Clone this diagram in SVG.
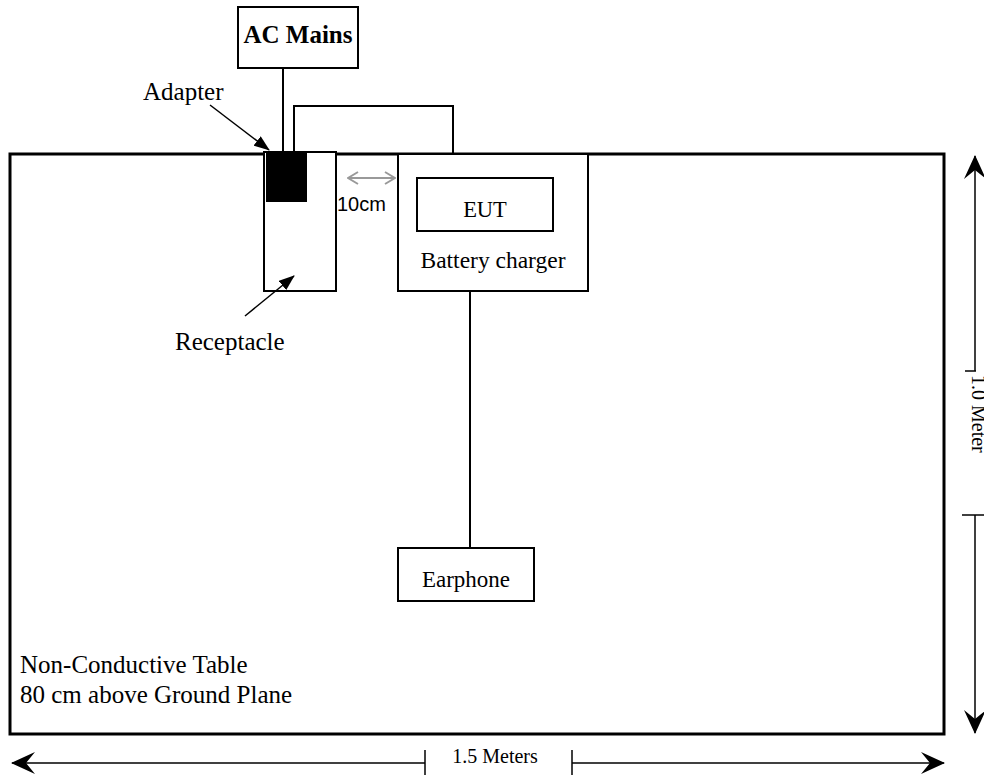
<svg xmlns="http://www.w3.org/2000/svg" width="984" height="779" viewBox="0 0 984 779">
<defs>
<style>
.t{font-family:"Liberation Serif","Times New Roman",serif;fill:#000}
.box{fill:#fff;stroke:#000;stroke-width:2}
.ln{fill:none;stroke:#000;stroke-width:2}
.thin{fill:none;stroke:#000;stroke-width:1.5}
</style>
<marker id="tri" viewBox="0 0 16 12" refX="15" refY="6" markerWidth="16" markerHeight="12" markerUnits="userSpaceOnUse" orient="auto">
<path d="M0,0 L16,6 L0,12 Z" fill="#000"/>
</marker>
<marker id="chev" viewBox="0 0 24 22" refX="23" refY="11" markerWidth="24" markerHeight="22" markerUnits="userSpaceOnUse" orient="auto">
<path d="M0,0 L24,11 L0,22 L9,11 Z" fill="#000"/>
</marker>
<marker id="gchev" viewBox="0 0 12 14" refX="11" refY="7" markerWidth="12" markerHeight="14" markerUnits="userSpaceOnUse" orient="auto-start-reverse">
<path d="M1,1 L11,7 L1,13" fill="none" stroke="#999" stroke-width="2"/>
</marker>
</defs>
<rect width="984" height="779" fill="#fff"/>

<g id="table">
<rect x="10" y="154" width="934" height="580" fill="#fff" stroke="#000" stroke-width="3"/>
<text class="t" x="20" y="673" font-size="25">Non-Conductive Table</text>
<text class="t" x="20" y="703" font-size="25">80 cm above Ground Plane</text>
</g>

<g id="ac-mains">
<rect class="box" x="238" y="7" width="120" height="61"/>
<text class="t" x="298" y="43" font-size="25" font-weight="bold" text-anchor="middle">AC Mains</text>
</g>

<g id="receptacle">
<rect class="box" x="264" y="152" width="72" height="139"/>
</g>

<g id="adapter">
<rect x="266" y="151" width="41" height="51" fill="#000"/>
</g>

<g id="battery-charger">
<rect class="box" x="398" y="154" width="190" height="137"/>
<text class="t" x="493" y="268" font-size="23.5" text-anchor="middle">Battery charger</text>
</g>

<g id="eut">
<rect class="box" x="417" y="178" width="136" height="53"/>
<text class="t" x="485" y="217" font-size="22.5" text-anchor="middle">EUT</text>
</g>

<g id="earphone">
<rect class="box" x="398" y="548" width="136" height="53"/>
<text class="t" x="466" y="587" font-size="23" text-anchor="middle">Earphone</text>
</g>

<g id="connectors">
<line class="ln" x1="283" y1="68" x2="283" y2="152"/>
<polyline class="ln" points="294,152 294,106 453,106 453,154"/>
<line class="ln" x1="470" y1="292" x2="470" y2="548"/>
<line class="thin" x1="210" y1="105" x2="269" y2="150" marker-end="url(#tri)"/>
<line class="thin" x1="245" y1="316" x2="294" y2="276" marker-end="url(#tri)"/>
<line x1="348" y1="178" x2="395" y2="178" stroke="#999" stroke-width="2" marker-start="url(#gchev)" marker-end="url(#gchev)"/>
</g>

<g id="labels">
<text class="t" x="143" y="100" font-size="25">Adapter</text>
<text class="t" x="175" y="350" font-size="25">Receptacle</text>
<text x="337" y="211" font-size="20" font-family="'Liberation Sans',Arial,sans-serif" fill="#000">10cm</text>
</g>

<g id="dimensions">
<line class="thin" x1="425" y1="763" x2="12" y2="763" marker-end="url(#chev)"/>
<line class="thin" x1="425" y1="750" x2="425" y2="775"/>
<line class="thin" x1="572" y1="763" x2="944" y2="763" marker-end="url(#chev)"/>
<line class="thin" x1="572" y1="750" x2="572" y2="775"/>
<text class="t" x="495" y="763" font-size="20" text-anchor="middle">1.5 Meters</text>
<line class="thin" x1="975" y1="371" x2="975" y2="156" marker-end="url(#chev)"/>
<line class="thin" x1="965" y1="371" x2="976" y2="371"/>
<line class="thin" x1="975" y1="515" x2="975" y2="733" marker-end="url(#chev)"/>
<line class="thin" x1="962" y1="515" x2="984" y2="515"/>
<text class="t" transform="translate(972,375) rotate(90)" x="0" y="0" font-size="20">1.0 Meter</text>
</g>
</svg>
